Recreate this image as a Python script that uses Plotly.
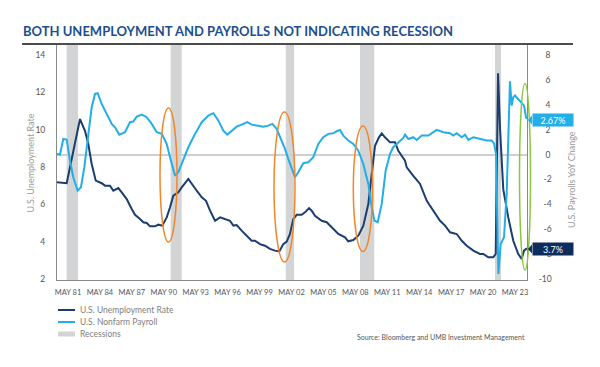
import plotly.graph_objects as go

# ---------------- data ----------------
unemp_x = [1980.27, 1981.21, 1982.46, 1982.93, 1983.24, 1983.56, 1983.94, 1984.50, 1984.81, 1985.28,
           1985.59, 1986.06, 1986.38, 1986.85, 1987.32, 1987.63, 1988.10, 1988.41, 1988.73, 1989.04,
           1989.51, 1989.82, 1990.19, 1990.61, 1990.92, 1991.23, 1991.70, 1992.02, 1992.64, 1992.96,
           1993.43, 1993.90, 1994.30, 1994.68, 1995.15, 1995.62, 1996.09, 1996.55, 1996.87, 1997.18,
           1997.65, 1998.12, 1998.59, 1998.90, 1999.37, 1999.84, 2000.31, 2000.78, 2001.19, 2001.56,
           2001.88, 2002.19, 2002.50, 2002.82, 2003.29, 2003.60, 2003.98, 2004.23, 2004.54, 2005.17,
           2005.64, 2006.11, 2006.73, 2007.36, 2007.67, 2008.14, 2008.61, 2009.08, 2009.55, 2009.87,
           2010.18, 2010.55, 2010.81, 2011.12, 2011.59, 2012.06, 2012.37, 2013.00, 2013.16, 2013.78,
           2014.41, 2015.04, 2015.66, 2016.29, 2016.76, 2017.23, 2017.86, 2018.33, 2018.80, 2019.42,
           2020.04, 2020.36, 2020.82, 2021.29, 2021.52, 2021.74, 2021.92, 2022.23, 2022.70, 2023.17,
           2023.64, 2023.96, 2024.18, 2024.45]
unemp_rate = [7.18, 7.13, 10.57, 9.94, 9.23, 8.16, 7.27, 7.13, 7.00, 7.00,
              6.73, 6.87, 6.64, 6.28, 5.75, 5.44, 5.21, 5.04, 5.00, 4.82,
              4.82, 4.91, 4.86, 5.30, 5.84, 6.46, 6.64, 6.91, 7.36, 7.09,
              6.73, 6.38, 6.19, 5.66, 5.12, 5.30, 5.21, 5.12, 4.86, 4.89,
              4.59, 4.32, 4.05, 4.05, 3.87, 3.78, 3.61, 3.52, 3.48, 3.87,
              4.00, 4.41, 5.21, 5.44, 5.44, 5.57, 5.80, 5.66, 5.39, 5.12,
              5.04, 4.77, 4.41, 4.23, 4.02, 4.09, 4.32, 4.86, 6.02, 7.62,
              9.14, 9.59, 9.80, 9.59, 9.32, 9.32, 8.87, 8.34, 7.98, 7.53,
              7.09, 6.19, 5.66, 5.12, 4.86, 4.50, 4.41, 4.05, 3.78, 3.52,
              3.34, 3.34, 3.16, 3.16, 3.34, 13.02, 10.12, 6.80, 5.30, 4.05,
              3.34, 3.07, 3.52, 3.65]

payroll_x = [1980.27, 1980.58, 1980.89, 1981.21, 1981.52, 1981.83, 1982.24, 1982.55, 1982.87, 1983.24,
             1983.56, 1983.87, 1984.12, 1984.50, 1984.97, 1985.44, 1985.75, 1986.15, 1986.69, 1987.16,
             1987.47, 1987.79, 1988.26, 1988.73, 1989.20, 1989.67, 1990.14, 1990.61, 1990.92, 1991.23,
             1991.39, 1991.70, 1992.17, 1992.64, 1993.27, 1993.90, 1994.52, 1994.99, 1995.46, 1995.93,
             1996.30, 1996.71, 1997.18, 1997.65, 1998.18, 1998.59, 1999.06, 1999.68, 2000.15, 2000.53,
             2000.94, 2001.41, 2001.72, 2002.03, 2002.35, 2002.66, 2002.97, 2003.44, 2003.91, 2004.38,
             2004.85, 2005.32, 2005.79, 2006.26, 2006.58, 2006.89, 2007.20, 2007.67, 2008.14, 2008.61,
             2009.08, 2009.55, 2009.87, 2010.12, 2010.43, 2010.81, 2011.18, 2011.59, 2011.90, 2012.37,
             2012.84, 2013.00, 2013.31, 2013.78, 2014.10, 2014.57, 2015.19, 2015.98, 2016.60, 2017.23,
             2017.54, 2017.86, 2018.33, 2018.64, 2018.95, 2019.42, 2020.04, 2020.67, 2021.14, 2021.36,
             2021.55, 2021.77, 2021.99, 2022.30, 2022.55, 2022.70, 2022.86, 2023.02, 2023.17, 2023.33,
             2023.64, 2023.96, 2024.18, 2024.37, 2024.45]
payroll_yoy = [0.05, 0.00, 1.25, 1.20, -0.49, -1.82, -2.90, -2.63, -1.02, 1.66,
               3.80, 4.87, 4.93, 4.07, 3.26, 2.46, 2.19, 1.60, 1.79, 2.60,
               2.65, 3.05, 3.21, 3.00, 2.46, 1.79, 1.66, 0.85, -0.22, -1.29,
               -1.70, -1.42, -0.35, 0.59, 1.66, 2.60, 3.13, 3.32, 2.73, 1.92,
               1.60, 1.87, 2.24, 2.40, 2.60, 2.40, 2.32, 2.24, 2.32, 2.46,
               2.06, 1.12, 0.45, -0.35, -1.16, -1.82, -1.42, -0.70, -0.62, -0.22,
               0.85, 1.39, 1.66, 1.71, 1.87, 1.98, 1.52, 1.12, 0.85, 0.31,
               -0.76, -2.36, -4.24, -5.31, -5.44, -3.97, -1.29, 0.05, 0.59, 0.99,
               1.33, 1.60, 1.25, 1.39, 1.17, 1.52, 1.52, 1.98, 1.79, 1.71,
               1.52, 1.71, 1.39, 1.60, 1.17, 1.39, 1.25, 1.12, 1.12, 0.90,
               0.05, -9.60, -7.19, -6.65, -3.17, 0.85, 5.89, 3.93, 4.61, 4.74,
               4.47, 4.20, 3.93, 2.99, 2.86]

recession_start = [1981.21, 1990.98, 2001.79, 2008.77, 2021.45]
recession_end = [1982.27, 1992.02, 2002.57, 2010.11, 2022.02]

tick_years = [1981.333 + 3 * i for i in range(15)]
tick_text = ["MAY 81", "MAY 84", "MAY 87", "MAY 90", "MAY 93", "MAY 96", "MAY 99", "MAY 02",
             "MAY 05", "MAY 08", "MAY 11", "MAY 14", "MAY 17", "MAY 20", "MAY 23"]

left_ticks = [2, 4, 6, 8, 10, 12, 14]
right_ticks = [-10, -8, -6, -4, -2, 0, 2, 4, 6, 8]

last_unemp_label = "3.7%"
last_payroll_label = "2.67%"

# ---------------- styling ----------------
NAVY = "#1b3d6f"
LIGHT = "#22aee6"
REC = "#d3d4d6"
FONT = "Lato"

fig = go.Figure()
fig.add_trace(go.Scatter(x=unemp_x, y=unemp_rate, mode="lines", name="U.S. Unemployment Rate",
                         line=dict(color=NAVY, width=2), yaxis="y", showlegend=False))
fig.add_trace(go.Scatter(x=payroll_x, y=payroll_yoy, mode="lines", name="U.S. Nonfarm Payroll",
                         line=dict(color=LIGHT, width=2), yaxis="y2", showlegend=False))

shapes = []
for s, e in zip(recession_start, recession_end):
    shapes.append(dict(type="rect", xref="x", yref="paper", x0=s, x1=e, y0=0, y1=1,
                       fillcolor=REC, line=dict(width=0), layer="below"))

# plot area in page pixels: x 57..527, y 44..280
def px(p):
    return (p - 57) / 470.0

def py(p):
    return (280 - p) / 236.0

# title underline / top rule
shapes.append(dict(type="line", xref="paper", yref="paper", x0=px(22), x1=px(573), y0=py(44), y1=py(44),
                   line=dict(color="#4d4d4f", width=2)))

# ovals
for (a, b, c, d, col) in [(160, 177, 108, 242, "#f0862a"), (274, 295, 112, 262, "#f0862a"),
                          (353.3, 372.5, 126, 251.5, "#f0862a"), (519.5, 530.5, 83.5, 270, "#8cc63f")]:
    shapes.append(dict(type="circle", xref="paper", yref="paper", x0=px(a), x1=px(b), y0=py(d), y1=py(c),
                       line=dict(color=col, width=1.5), fillcolor="rgba(0,0,0,0)"))

# manual legend
shapes.append(dict(type="line", xref="paper", yref="paper", x0=px(58), x1=px(75), y0=py(310), y1=py(310),
                   line=dict(color=NAVY, width=2)))
shapes.append(dict(type="line", xref="paper", yref="paper", x0=px(58), x1=px(75), y0=py(322), y1=py(322),
                   line=dict(color=LIGHT, width=2)))
shapes.append(dict(type="line", xref="paper", yref="paper", x0=px(58), x1=px(75), y0=py(334), y1=py(334),
                   line=dict(color=REC, width=5)))

# value label pointers
shapes.append(dict(type="path", xref="paper", yref="paper",
                   path=f"M {px(528)} {py(120)} L {px(532)} {py(115.5)} L {px(532)} {py(124.5)} Z",
                   fillcolor=LIGHT, line=dict(width=0)))
shapes.append(dict(type="path", xref="paper", yref="paper",
                   path=f"M {px(528)} {py(249)} L {px(532)} {py(244.5)} L {px(532)} {py(253.5)} Z",
                   fillcolor="#0e2c5c", line=dict(width=0)))

annotations = [
    dict(text="<b>BOTH UNEMPLOYMENT AND PAYROLLS NOT INDICATING RECESSION</b>", xref="paper", yref="paper",
         x=px(21), y=py(31), xanchor="left", yanchor="middle", showarrow=False,
         font=dict(family=FONT, size=13, color="#1d4f8f")),
    dict(text="U.S. Unemployment Rate", xref="paper", yref="paper", x=px(30), y=py(163.5), textangle=-90,
         showarrow=False, xanchor="center", yanchor="middle", font=dict(family=FONT, size=9, color="#9a9a9a")),
    dict(text="U.S. Payrolls YoY Change", xref="paper", yref="paper", x=px(571), y=py(180), textangle=-90,
         showarrow=False, xanchor="center", yanchor="middle", font=dict(family=FONT, size=9, color="#9a9a9a")),
    dict(text="U.S. Unemployment Rate", xref="paper", yref="paper", x=px(78), y=py(310), xanchor="left",
         yanchor="middle", showarrow=False, font=dict(family=FONT, size=8.5, color="#808080")),
    dict(text="U.S. Nonfarm Payroll", xref="paper", yref="paper", x=px(78), y=py(322), xanchor="left",
         yanchor="middle", showarrow=False, font=dict(family=FONT, size=8.5, color="#808080")),
    dict(text="Recessions", xref="paper", yref="paper", x=px(78), y=py(334), xanchor="left",
         yanchor="middle", showarrow=False, font=dict(family=FONT, size=8.5, color="#808080")),
    dict(text="Source: Bloomberg and UMB Investment Management", xref="paper", yref="paper", x=px(527),
         y=py(337), xanchor="right", yanchor="middle", showarrow=False,
         font=dict(family=FONT, size=7, color="#555555")),
    dict(text=last_payroll_label, xref="paper", yref="paper", x=px(532), y=py(120),
         xanchor="left", yanchor="middle", showarrow=False, bgcolor=LIGHT, width=37, height=9, borderpad=1.5,
         font=dict(family=FONT, size=9, color="white")),
    dict(text=last_unemp_label, xref="paper", yref="paper", x=px(532), y=py(249),
         xanchor="left", yanchor="middle", showarrow=False, bgcolor="#0e2c5c", width=37, height=9, borderpad=1.5,
         font=dict(family=FONT, size=9, color="white")),
]

# right ticks right-aligned via figure-space padding
def pad(v):
    s = str(v)
    if v >= 0:
        return "\u2007\u2008" + s if v < 10 else s
    return "\u2007" + s if v > -10 else s

# the page body adds an 8px margin; the figure is sized and placed to compensate
BODY = 8
W, H = 600 - BODY, 367 - BODY
fig.update_layout(
    width=W, height=H,
    margin=dict(l=57 - BODY, r=W - (527 - BODY), t=44 - BODY, b=H - (280 - BODY)),
    paper_bgcolor="white", plot_bgcolor="white",
    showlegend=False,
    font=dict(family=FONT, color="#555555"),
    xaxis=dict(range=[1980.30, 2024.46], tickvals=tick_years, ticktext=tick_text, showgrid=False,
               zeroline=False, showline=True, linecolor="#8a8a8a", linewidth=1, ticks="",
               ticklabelstandoff=5, tickfont=dict(family=FONT, size=7.5, color="#555555")),
    yaxis=dict(range=[1.946, 14.59], tickvals=left_ticks, showgrid=False, zeroline=False,
               showline=True, linecolor="#8a8a8a", linewidth=1, ticks="", ticklabelstandoff=9,
               tickfont=dict(family=FONT, size=8.5, color="#555555")),
    yaxis2=dict(range=[-10.08, 8.88], overlaying="y", side="right", tickvals=right_ticks,
                ticktext=[pad(v) for v in right_ticks], showgrid=False,
                zeroline=True, zerolinecolor="#cfcfcf", zerolinewidth=1.5,
                showline=True, linecolor="#8a8a8a", linewidth=1, ticks="", ticklabelstandoff=9,
                tickfont=dict(family=FONT, size=8.5, color="#555555")),
    shapes=shapes,
    annotations=annotations,
)

fig.write_html("out.html")
